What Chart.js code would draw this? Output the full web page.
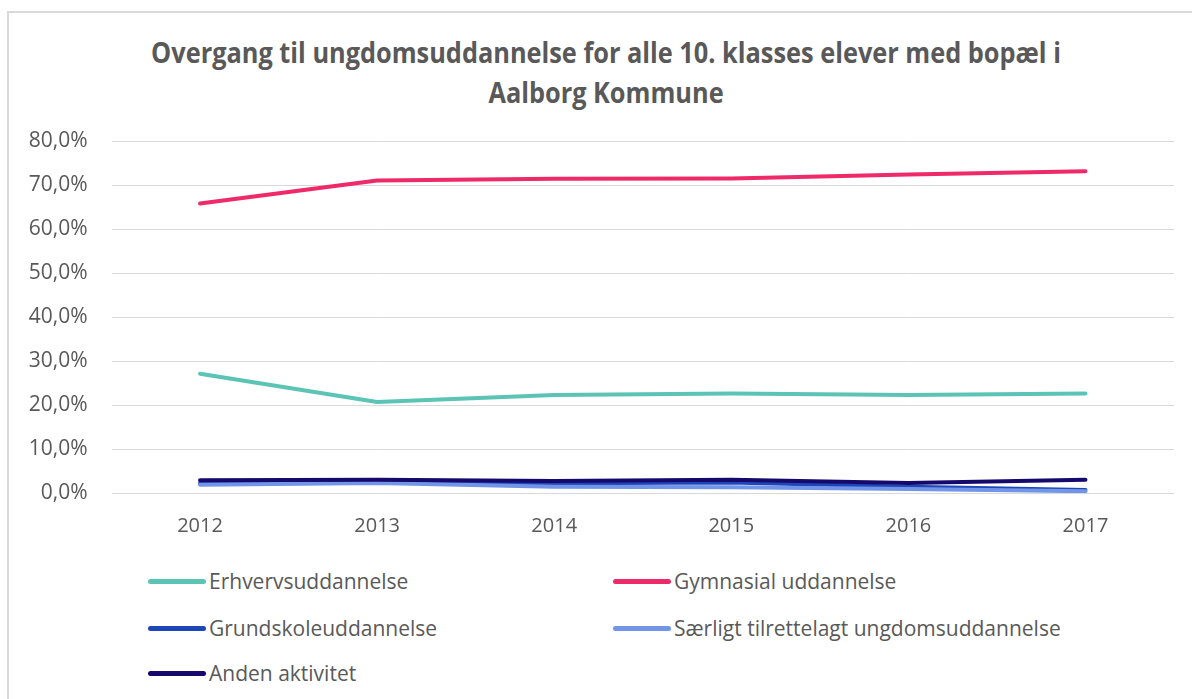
<!DOCTYPE html>
<html>
<head>
<meta charset="utf-8">
<script src="https://cdn.jsdelivr.net/npm/chart.js@4"></script>
<style>
  body { margin: 0; background: #fff; width: 1192px; height: 699px; overflow: hidden; position: relative; font-family: 'Open Sans', sans-serif; }
  .frame { position: absolute; left: 7px; top: 11px; width: 1300px; height: 800px; border: 2px solid #d9d9d9; }
  .title { position: absolute; left: 0; width: 1212px; top: 32px; text-align: center; color: #595959; font-family: 'Open Sans', sans-serif; font-weight: bold; font-size: 28px; line-height: 40px; transform: scaleX(0.905); transform-origin: 606px 0; }
  .chart-wrapper { position: absolute; left: 0; top: 0; width: 1192px; height: 560px; }
  .legend-item { position: absolute; display: flex; align-items: center; color: #595959; font-size: 21px; white-space: nowrap; }
  .legend-item span.swatch { display: inline-block; width: 58px; height: 5px; border-radius: 3px; margin-right: 3px; }
</style>
</head>
<body>
<div class="frame"></div>
<div class="title">Overgang til ungdomsuddannelse for alle 10. klasses elever med bopæl i<br>Aalborg Kommune</div>
<div class="chart-wrapper"><canvas id="chart"></canvas></div>
<div id="legend"></div>
<script>
const years = ['2012', '2013', '2014', '2015', '2016', '2017'];

const erhverv = [27.1, 20.7, 22.3, 22.6, 22.3, 22.6];
const gymnasial = [65.8, 71.0, 71.4, 71.5, 72.4, 73.1];
const grundskole = [2.2, 2.6, 2.2, 2.4, 1.4, 0.7];
const saerligt = [1.9, 2.3, 1.4, 1.3, 0.9, 0.4];
const anden = [2.9, 3.0, 2.7, 3.0, 2.3, 3.0];

const seriesNames = ['Erhvervsuddannelse', 'Gymnasial uddannelse', 'Grundskoleuddannelse', 'Særligt tilrettelagt ungdomsuddannelse', 'Anden aktivitet'];
const seriesColors = ['#5cc4b5', '#ee2a68', '#1d46b9', '#7395e8', '#150a6c'];
const seriesData = [erhverv, gymnasial, grundskole, saerligt, anden];

const yTicks = [0, 10, 20, 30, 40, 50, 60, 70, 80];

const datasets = seriesNames.map((name, i) => ({
  label: name,
  data: seriesData[i],
  borderColor: seriesColors[i],
  backgroundColor: seriesColors[i],
  borderWidth: 4,
  pointRadius: 0,
  tension: 0,
  borderCapStyle: 'round',
  borderJoinStyle: 'round',
  order: seriesNames.length - i
}));

const ctx = document.getElementById('chart').getContext('2d');
const chart = new Chart(ctx, {
  type: 'line',
  data: { labels: years, datasets: datasets },
  options: {
    responsive: true,
    maintainAspectRatio: false,
    animation: false,
    layout: { padding: { top: 141, right: 18, left: 0, bottom: 0 } },
    plugins: {
      legend: { display: false },
      title: { display: false },
      tooltip: { enabled: false }
    },
    scales: {
      x: {
        offset: true,
        grid: { display: false },
        border: { display: false },
        ticks: {
          color: '#595959',
          font: { family: 'Open Sans', size: 20 },
          padding: 13
        },
        afterFit: function(scale) { scale.height = 67; }
      },
      y: {
        min: yTicks[0],
        max: yTicks[yTicks.length - 1],
        afterBuildTicks: function(scale) { scale.ticks = yTicks.map(v => ({ value: v })); },
        grid: { color: '#d9d9d9', lineWidth: 1, drawTicks: false },
        border: { display: false },
        ticks: {
          color: '#595959',
          font: { family: 'Open Sans', size: 21 },
          padding: 24,
          callback: function(value) { return value.toFixed(1).replace('.', ',') + '%'; }
        },
        afterFit: function(scale) { scale.width = 111.5; }
      }
    }
  }
});

// Legend in two columns, like the original
const legendPos = [[148, 581], [613, 581], [148, 628], [613, 628], [148, 673]];
const legend = document.getElementById('legend');
chart.data.datasets.forEach((ds, i) => {
  const item = document.createElement('div');
  item.className = 'legend-item';
  item.style.left = legendPos[i][0] + 'px';
  item.style.top = (legendPos[i][1] - 14) + 'px';
  item.style.height = '28px';
  item.innerHTML = '<span class="swatch" style="background:' + ds.borderColor + '"></span>' + ds.label;
  legend.appendChild(item);
});
</script>
</body>
</html>
